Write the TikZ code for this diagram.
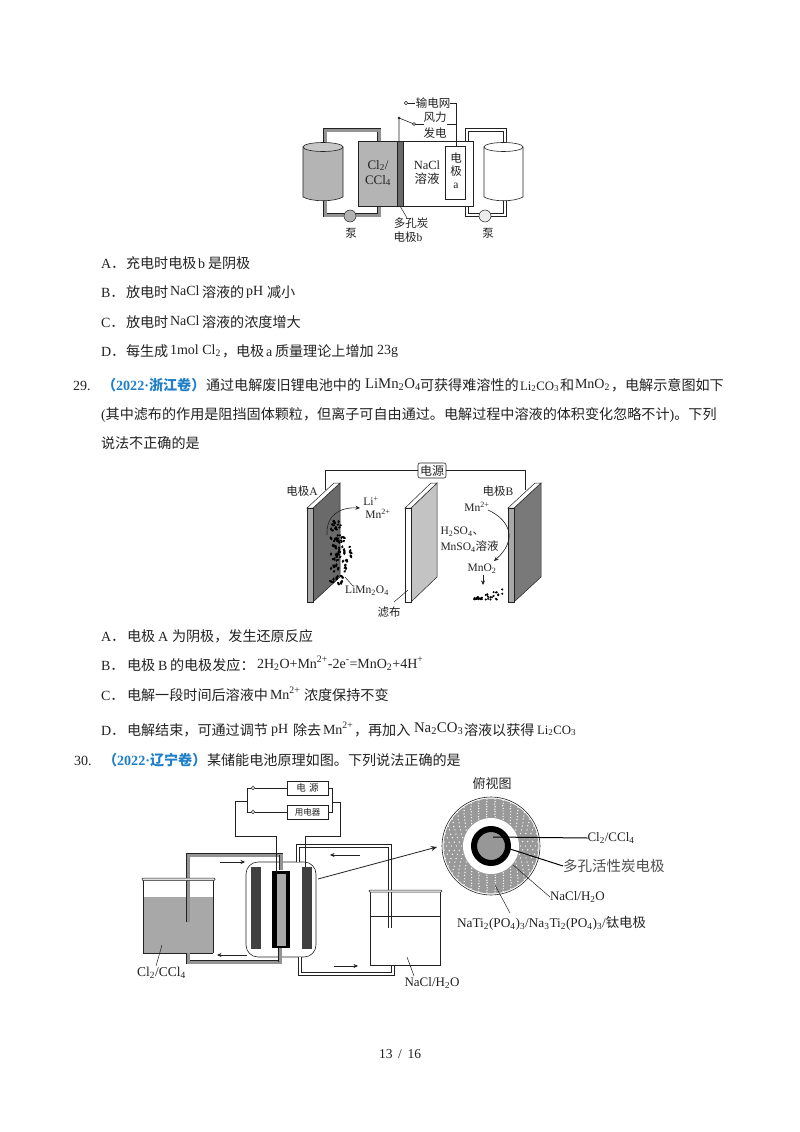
\documentclass[tikz,border=0pt]{standalone}
\usepackage{fontspec}
\usetikzlibrary{arrows.meta}
\setmainfont{Liberation Serif}
\newfontfamily\cjk{Noto Sans CJK SC}
\newcommand{\zh}[1]{{\cjk #1}}
\newcommand{\dn}[1]{\textsubscript{#1}}
\newcommand{\uu}[1]{\textsuperscript{#1}}
\definecolor{ink}{HTML}{222222}
\definecolor{blu}{HTML}{1F7FC8}
\definecolor{gA}{HTML}{B4B4B4}
\definecolor{gB}{HTML}{6A6A6A}
\definecolor{gC}{HTML}{A8A8A8}
\tikzset{
  tx/.style={anchor=base west,inner sep=0pt,outer sep=0pt,text=ink,font=\fontsize{14.1}{16}\selectfont},
  tl/.style={anchor=base west,inner sep=0pt,outer sep=0pt,text=ink,font=\fontsize{14}{16}\selectfont},
  tlb/.style={tl,font=\fontsize{14.8}{16}\selectfont},
  tls/.style={tl,font=\fontsize{12.8}{16}\selectfont},
  lb/.style={anchor=center,inner sep=0pt,outer sep=0pt,text=ink,font=\fontsize{11.5}{13}\selectfont},
  lbm/.style={lb,font=\fontsize{12.5}{14}\selectfont},
  lbl/.style={lb,font=\fontsize{13}{15}\selectfont},
  hd/.style={anchor=base west,inner sep=0pt,outer sep=0pt,text=blu,font=\fontsize{14.1}{16}\selectfont\bfseries},
  wire/.style={draw=ink,line width=.6pt},
  lead/.style={draw=ink,line width=.5pt},
  arw/.style={draw=ink,line width=.5pt,-{Stealth[length=4.5pt,width=4pt]}},
  pipeg/.style={draw=ink,double=gray!85,double distance=3pt,line width=.6pt},
  pipew/.style={draw=ink,double=white,double distance=2.4pt,line width=.6pt},
  plate/.style={draw=ink,line width=.5pt},
  sw/.style={circle,draw=ink,fill=white,line width=.5pt,inner sep=0pt,minimum size=3.6pt},
}
\begin{document}
\begin{tikzpicture}[x=1pt,y=-1pt]
\useasboundingbox (0,0) rectangle (800,1132);
\fill[white] (0,0) rectangle (800,1132);

% ---- Diagram 1
\draw[pipeg] (325,150) -- (325,130) -- (379,130) -- (379,141);
\draw[pipeg] (325,198) -- (325,215) -- (379,215) -- (379,206);
\draw[pipew] (467,141) -- (467,130) -- (505,130) -- (505,150);
\draw[pipew] (467,206) -- (467,215) -- (505,215) -- (505,198);
\filldraw[fill=gA,draw=ink,line width=.6pt] (303,147) -- (303,197) .. controls (312,202) and (334,202) .. (343,197) -- (343,147) -- cycle;
\filldraw[fill=gA!75!white,draw=ink,line width=.6pt] (323,147) ellipse [x radius=20,y radius=4.5];
\filldraw[fill=white,draw=ink,line width=.6pt] (484,147) -- (484,197) .. controls (493,202) and (514,202) .. (523,197) -- (523,147) -- cycle;
\filldraw[fill=white,draw=ink,line width=.6pt] (503.5,147) ellipse [x radius=19.5,y radius=4.5];
\filldraw[fill=gA,draw=ink,line width=.6pt] (358,141) rectangle (397,206);
\filldraw[fill=white,draw=ink,line width=.7pt] (403,141) rectangle (473,206);
\filldraw[fill=gB,draw=ink,line width=.6pt] (397,141) rectangle (403,206);
\filldraw[fill=white,draw=ink,line width=.6pt] (445,146) rectangle (465,199);
\filldraw[fill=gray!60,draw=ink,line width=.5pt] (350,216) circle (6);
\filldraw[fill=gray!15,draw=ink,line width=.5pt] (485,216) circle (6);
\draw[wire] (399,141) -- (399,118) -- (414,124);
\filldraw[fill=white,draw=ink,line width=.5pt] (414,124) circle (1.5);
\filldraw[fill=ink,draw=ink] (399,118) circle (1.2);
\draw[wire] (415,124) -- (424,124);
\node[sw] (gridend) at (406,103) {};
\coordinate (gridr) at (450,103);
\coordinate (eltop) at (456,146);
\draw[wire] (gridend) -- (415,103);
\draw[wire] (gridr) -- (456,103) -- (eltop);
\draw[wire] (447,124) -- (456,124);
\draw[lead] (400,206) -- (407,218);
\node[lb] (t1a) at (433,103) {\zh{输电网}};
\node[lb] (t1b) at (435,117) {\zh{风力}};
\node[lb] (t1c) at (435,133) {\zh{发电}};
\node[lbl,align=center] (t1d) at (378,173) {Cl\dn{2}/\\CCl\dn{4}};
\node[lbm,align=center] (t1e) at (427,173) {NaCl\\\zh{溶液}};
\node[lb,align=center] (t1f) at (456,171) {\zh{电}\\[0pt]\zh{极}\\a};
\node[lb] (t1g) at (351,233) {\zh{泵}};
\node[lb] (t1h) at (488,233) {\zh{泵}};
\node[lb] (t1i) at (411,223) {\zh{多孔炭}};
\node[lb] (t1j) at (408,237) {\zh{电极}b};

% ---- Question text upper
\node[tl] (a1) at (101,268) {A\zh{．}};
\node[tx] (a2) at (126,268) {\zh{充电时电极}};
\node[tl] (a3) at (198,268) {b};
\node[tx] (a4) at (208,268) {\zh{是阴极}};
\node[tl] (b1) at (101,297) {B\zh{．}};
\node[tx] (b2) at (126,297) {\zh{放电时}};
\node[tl] (b3) at (170,295) {NaCl};
\node[tx] (b4) at (202,297) {\zh{溶液的}};
\node[tl] (b5) at (246,295) {pH};
\node[tx] (b6) at (267,297) {\zh{减小}};
\node[tl] (c1) at (101,327) {C\zh{．}};
\node[tx] (c2) at (126,327) {\zh{放电时}};
\node[tl] (c3) at (170,325) {NaCl};
\node[tx] (c4) at (202,327) {\zh{溶液的浓度增大}};
\node[tl] (d1) at (101,356) {D\zh{．}};
\node[tx] (d2) at (126,356) {\zh{每生成}};
\node[tl] (d3) at (170,354) {1mol Cl\dn{2}};
\node[tx] (d4) at (222,356) {\zh{，电极}};
\node[tl] (d5) at (266,356) {a};
\node[tx] (d6) at (275,356) {\zh{质量理论上增加}};
\node[tl] (d7) at (377,354) {23g};

% ---- Q29
\node[tl] (q1) at (73,390) {29.};
\node[hd] (q2) at (102,390) {\zh{（}2022·\zh{浙江卷）}};
\node[tx] (q3) at (206,390) {\zh{通过电解废旧锂电池中的}};
\node[tlb] (q4) at (365,388) {LiMn\dn{2}O\dn{4}};
\node[tx] (q5) at (420,390) {\zh{可获得难溶性的}};
\node[tls] (q6) at (520,390) {Li\dn{2}CO\dn{3}};
\node[tx] (q7) at (560,390) {\zh{和}};
\node[tl] (q8) at (575,388) {MnO\dn{2}};
\node[tx] (q9) at (611,390) {\zh{，电解示意图如下}};
\node[tx] (r1) at (101,419) {(\zh{其中滤布的作用是阻挡固体颗粒，但离子可自由通过。电解过程中溶液的体积变化忽略不计})\zh{。下列}};
\node[tx] (s1) at (101,448) {\zh{说法不正确的是}};
\fill[ink] (136,437) circle (.8) (150,437) circle (.8) (164,437) circle (.8);

% ---- Diagram 2
\node[draw=ink,rounded corners=2pt,line width=.6pt,minimum width=28pt,minimum height=15pt,inner sep=0pt,text=ink,font=\fontsize{12}{13}\selectfont] (pw) at (432,470.5) {\zh{电源}};
\coordinate (pa) at (325,490);
\coordinate (pb) at (525,490);
\draw[wire] (pw.west) -- (325,470.5) -- (pa);
\draw[wire] (pw.east) -- (525,470.5) -- (pb);
% plate A
\filldraw[plate,fill=gB] (313,508) -- (340,483) -- (340,577) -- (313,602) -- cycle;
\filldraw[plate,fill=white] (307,508) -- (334,483) -- (340,483) -- (313,508) -- cycle;
\filldraw[plate,fill=gC] (307,508) rectangle (313,602);
% filter
\filldraw[plate,fill=gA!80!white] (411,508) -- (437,483) -- (437,577) -- (411,602) -- cycle;
\filldraw[plate,fill=white] (405,508) -- (431,483) -- (437,483) -- (411,508) -- cycle;
\filldraw[plate,fill=white] (405,508) rectangle (411,602);
% plate B
\filldraw[plate,fill=gB!90!white] (514,508) -- (541,483) -- (541,577) -- (514,602) -- cycle;
\filldraw[plate,fill=white] (508,508) -- (535,483) -- (541,483) -- (514,508) -- cycle;
\filldraw[plate,fill=gC] (508,508) rectangle (514,602);
% particles
\foreach \i in {1,...,88}{
  \pgfmathsetmacro\ua{mod(mod(\i*\i,89)*5+\i*41,89)/89}
  \pgfmathsetmacro\ub{mod(mod(\i*\i,31)*7+\i*3,31)/31}
  \pgfmathsetmacro\uc{mod(mod(\i*\i,17)*3+\i*11,17)/17}
  \pgfmathsetmacro\qy{521+64*\ua}
  \pgfmathsetmacro\qx{331+(8+14*sin((\qy-521)*2.5))*\ub}
  \pgfmathsetmacro\qa{180*\uc}
  \pgfmathsetmacro\qr{1.3+1.1*\uc}
  \fill[black,rotate around={\qa:(\qx,\qy)}] (\qx,\qy) ellipse [x radius=\qr,y radius=1.2];
}
\foreach \i in {1,...,36}{
  \pgfmathsetmacro\ua{mod(\i*\i*5+\i*13,37)/37}
  \pgfmathsetmacro\ub{mod(\i*\i*3+\i*7,23)/23}
  \pgfmathsetmacro\qx{474+29*\ua}
  \pgfmathsetmacro\qy{599.5-(\qx-474)*.34*\ub-1.5*\ub}
  \fill[black] (\qx,\qy) circle (1.15);
}
\draw[arw,line width=.6pt] (327,535) .. controls (326,515) and (340,507) .. (360,508);
\draw[arw,line width=.6pt] (488,510) .. controls (510,520) and (518,540) .. (494,561);
\draw[arw] (483,575) -- (483,585);
\draw[lead] (353,586) -- (345,577);
\draw[lead] (394,602) -- (408,590);
\node[lb] (t2a) at (302,491) {\zh{电极}A};
\node[lb] (t2b) at (371,501) {Li\uu{+}};
\node[lb] (t2c) at (378,514) {Mn\uu{2+}};
\node[lb] (t2d) at (498,491) {\zh{电极}B};
\node[lb] (t2e) at (477,507) {Mn\uu{2+}};
\node[lb,anchor=west] (t2f) at (440.5,532) {H\dn{2}SO\dn{4}\zh{、}};
\node[lb,anchor=west] (t2g) at (440.5,547) {MnSO\dn{4}\zh{溶液}};
\node[lb] (t2h) at (482,569) {MnO\dn{2}};
\node[lb] (t2i) at (367,591) {LiMn\dn{2}O\dn{4}};
\node[lb] (t2j) at (389,612) {\zh{滤布}};

% ---- Options 29
\node[tl] (e1) at (101,641) {A\zh{．}};
\node[tx] (e2) at (127,641) {\zh{电极}};
\node[tl] (e3) at (158,641) {A};
\node[tx] (e4) at (172,641) {\zh{为阴极，发生还原反应}};
\node[tl] (f1) at (101,670) {B\zh{．}};
\node[tx] (f2) at (127,670) {\zh{电极}};
\node[tl] (f3) at (158,670) {B};
\node[tx] (f4) at (170,670) {\zh{的电极发应：}};
\node[tl] (f5) at (257,668) {2H\dn{2}O+Mn\uu{2+}-2e\uu{-}=MnO\dn{2}+4H\uu{+}};
\node[tl] (g1) at (101,700) {C\zh{．}};
\node[tx] (g2) at (127,700) {\zh{电解一段时间后溶液中}};
\node[tl] (g3) at (270,699) {Mn\uu{2+}};
\node[tx] (g4) at (304,700) {\zh{浓度保持不变}};
\node[tl] (h1) at (101,735) {D\zh{．}};
\node[tx] (h2) at (127,735) {\zh{电解结束，可通过调节}};
\node[tl] (h3) at (271,733) {pH};
\node[tx] (h4) at (293,735) {\zh{除去}};
\node[tl] (h5) at (323,734) {Mn\uu{2+}};
\node[tx] (h6) at (354,735) {\zh{，再加入}};
\node[tlb] (h7) at (414,732) {Na\dn{2}CO\dn{3}};
\node[tx] (h8) at (464,735) {\zh{溶液以获得}};
\node[tls] (h9) at (537,734) {Li\dn{2}CO\dn{3}};
% ---- Q30
\node[tl] (u1) at (74,765) {30.};
\node[hd] (u2) at (103,765) {\zh{（}2022·\zh{辽宁卷）}};
\node[tx] (u3) at (207,765) {\zh{某储能电池原理如图。下列说法正确的是}};

% ---- Diagram 3
\fill[gC] (143,897) rectangle (213,953);
\draw[ink,line width=.7pt] (143,879) -- (143,953);
\draw[ink,line width=.7pt] (213,879) -- (213,953);
\draw[ink,line width=1pt] (143,953) -- (213,953);
\draw[pipeg] (188,922) -- (188,855) -- (281,855) -- (281,870);
\draw[pipeg] (188,953) -- (188,962) -- (280,962) -- (280,948);
\filldraw[fill=gray!25,draw=ink,line width=.5pt,rounded corners=1pt] (142,878) rectangle (215,880.5);
% cell
\filldraw[fill=white,draw=ink,line width=.6pt,rounded corners=12pt] (246,862) rectangle (316,957);
\draw[pipeg] (281,855) -- (281,870);
\draw[pipeg] (280,962) -- (280,948);
\draw[pipew] (298,862) -- (298,846) -- (390,846) -- (390,928);
\draw[pipew] (300,957) -- (300,974) -- (393,974) -- (393,965);
\fill[black!75] (251,867) rectangle (261,949);
\fill[black!75] (302,867) rectangle (312,949);
\fill[black] (272,871) rectangle (290,948);
\fill[gC] (277,874) rectangle (286,946);
% right beaker
\draw[ink,line width=.6pt] (370,891) -- (370,965) -- (440,965) -- (440,891);
\draw[ink,line width=.6pt] (370,916) -- (440,916);
\filldraw[fill=gray!15,draw=ink,line width=.5pt,rounded corners=1pt] (369,890) rectangle (442,892);
% wires + boxes
\node[draw=ink,fill=white,line width=.6pt,minimum width=41pt,minimum height=14pt,inner sep=0pt,text=ink,font=\fontsize{9.5}{11}\selectfont] (src) at (307.5,788) {\zh{电\,\,源}};
\node[draw=ink,fill=white,line width=.6pt,minimum width=41pt,minimum height=14pt,inner sep=0pt,text=ink,font=\fontsize{8.5}{10}\selectfont] (usr) at (307.5,812) {\zh{用电器}};
\node[sw] (s1a) at (253,788) {};
\node[sw] (s2a) at (253,812) {};
\draw[wire] (s1a) -- (247,788) -- (247,812) -- (s2a);
\draw[wire] (s1a.east) -- (src.west);
\draw[wire] (s2a.east) -- (usr.west);
\draw[wire] (247,801) -- (235,801) -- (235,836) -- (276,836) -- (276,872);
\draw[wire] (src.east) -- (332,788) -- (332,812) -- (usr.east);
\draw[wire] (332,802) -- (340,802) -- (340,836) -- (305,836) -- (305,867);
% arrows
\draw[arw] (220,862) -- (245,862);
\draw[arw] (360,855) -- (330,855);
\draw[arw] (247,955) -- (217,955);
\draw[arw] (334,966) -- (358,966);
\draw[lead] (162,945) -- (156,966);
\draw[lead] (407,957) -- (414,976);
\node[lb,font=\fontsize{13.5}{15}\selectfont] (t3a) at (161.5,973) {Cl\dn{2}/CCl\dn{4}};
\node[lbl] (t3b) at (432,983) {NaCl/H\dn{2}O};
% top view
\node[inner sep=0pt,minimum size=98pt,circle,draw=ink,line width=.6pt,fill=white] (tv) at (491,846) {};
\fill[gray!80] (491,846) circle (47.5);
\foreach \r/\n/\o in {29.5/22/0,32/24/7,34.5/26/0,37/28/6,39.5/30/0,42/32/5,44.5/34/0,47/36/5}{
  \foreach \k in {1,...,\n}{
    \fill[white] ({491+\r*cos(\k*360/\n+\o)},{846+\r*sin(\k*360/\n+\o)}) circle (.7);
  }
}
\fill[white] (491,846) circle (28);
\filldraw[fill=gC!90!black,draw=black,line width=6pt] (491,846) circle (17);
\coordinate (tvin) at (437,847);
\draw[draw=ink,line width=.8pt,-{Stealth[length=6pt,width=5pt]}] (318,879) -- (tvin);
\node[lbl] (t3c) at (492,784) {\zh{俯视图}};
\node[lbl,anchor=west] (t3d) at (587.5,838) {Cl\dn{2}/CCl\dn{4}};
\node[lb,anchor=west,text=ink!80,font=\fontsize{14.5}{16}\selectfont] (t3e) at (563,866) {\zh{多孔活性炭电极}};
\node[lbl,anchor=west] (t3f) at (550,897) {NaCl/H\dn{2}O};
\node[lb,anchor=west,font=\fontsize{13.3}{15}\selectfont] (t3g) at (457,923) {NaTi\dn{2}(PO\dn{4})\dn{3}/Na\dn{3}Ti\dn{2}(PO\dn{4})\dn{3}/\zh{钛电极}};
\draw[draw=black,line width=1pt] (493,837) -- (t3d.west);
\draw[draw=black,line width=1pt] (510,849) -- (t3e.west);
\draw[lead] (513,865) -- (t3f.west);
\draw[lead] (495,885) -- (510,913);

% footer
\node[anchor=center,inner sep=0pt,text=ink,font=\fontsize{13.5}{15}\selectfont] (pg) at (400,1054) {13 \,/\, 16};
\end{tikzpicture}
\end{document}
